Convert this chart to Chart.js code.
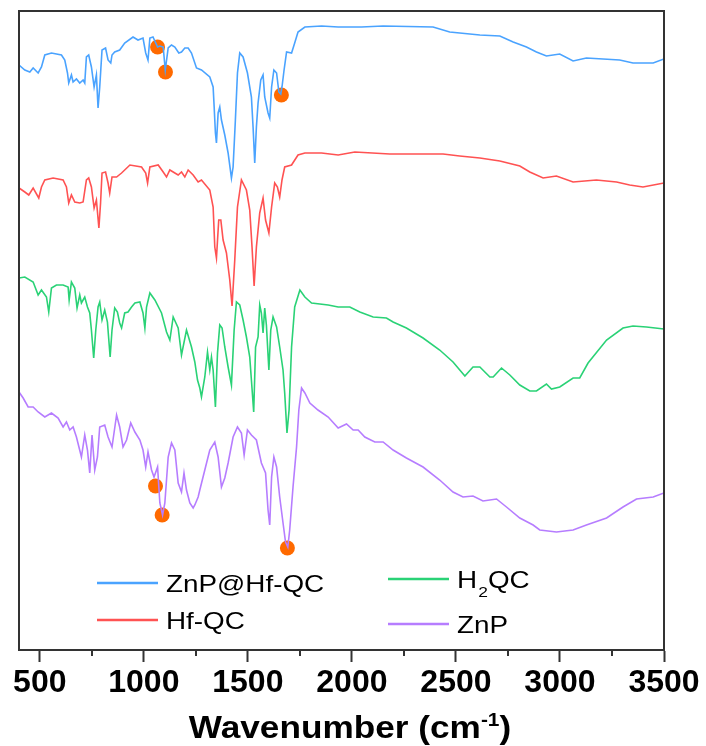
<!DOCTYPE html>
<html>
<head>
<meta charset="utf-8">
<script src="https://cdn.jsdelivr.net/npm/chart.js@4.4.1/dist/chart.umd.min.js"></script>
<style>
  html, body { margin: 0; padding: 0; background: #fff; }
  canvas { display: block; }
</style>
</head>
<body>
<canvas id="ftirChart" width="706" height="746"></canvas>
<script>
// FTIR traces, wavenumber (cm-1) vs. offset intensity (a.u.)
const znpHfX = [400, 428, 452, 468, 492, 508, 524, 556, 604, 620, 633, 639, 652, 660, 676, 692, 708, 716, 724, 735, 748, 761, 772, 780, 788, 799, 816, 828, 841, 847, 860, 884, 908, 948, 972, 996, 1009, 1020, 1029, 1044, 1066, 1077, 1093, 1103, 1117, 1133, 1149, 1168, 1181, 1197, 1213, 1229, 1253, 1277, 1317, 1333, 1338, 1344, 1349, 1357, 1365, 1373, 1389, 1405, 1421, 1429, 1440, 1450, 1461, 1477, 1498, 1517, 1525, 1533, 1541, 1549, 1562, 1573, 1581, 1597, 1605, 1614, 1625, 1638, 1649, 1658, 1664, 1674, 1686, 1710, 1725, 1741, 1774, 1854, 1934, 2046, 2150, 2390, 2470, 2615, 2711, 2775, 2839, 2887, 2935, 2999, 3063, 3127, 3287, 3351, 3448, 3500];
const znpHfY = [585, 580, 578, 582, 577, 583, 595, 597, 595, 590, 577, 567, 575, 568, 571, 567, 570, 567, 593, 595, 583, 563, 575, 542, 563, 600, 602, 590, 587, 595, 598, 600, 607, 613, 610, 612, 597, 590, 612, 613, 603, 604, 603, 580, 602, 605, 603, 597, 598, 602, 602, 597, 582, 580, 573, 563, 543, 517, 507, 537, 543, 530, 515, 497, 472, 483, 530, 577, 597, 593, 577, 553, 523, 487, 523, 547, 570, 575, 553, 537, 532, 563, 580, 577, 558, 556, 563, 580, 598, 597, 607, 618, 623, 624, 623, 623, 624, 623, 618, 615, 614, 608, 603, 598, 594, 596, 589, 592, 590, 587, 587, 591];

const hfX = [400, 428, 447, 468, 495, 508, 524, 564, 612, 628, 639, 652, 668, 692, 708, 724, 735, 748, 761, 772, 784, 792, 799, 816, 828, 836, 847, 869, 893, 933, 989, 1009, 1018, 1029, 1069, 1093, 1109, 1125, 1149, 1165, 1181, 1197, 1213, 1237, 1261, 1277, 1317, 1333, 1341, 1349, 1360, 1370, 1381, 1397, 1413, 1424, 1437, 1450, 1469, 1493, 1509, 1520, 1530, 1541, 1557, 1573, 1585, 1601, 1614, 1629, 1642, 1653, 1664, 1677, 1710, 1741, 1774, 1854, 1934, 2014, 2182, 2438, 2518, 2615, 2711, 2807, 2855, 2919, 2983, 3063, 3175, 3272, 3335, 3399, 3500];
const hfY = [462, 458, 455, 462, 452, 463, 470, 472, 470, 463, 447, 455, 448, 447, 448, 470, 472, 463, 442, 450, 422, 447, 477, 478, 467, 457, 473, 473, 477, 485, 483, 477, 467, 483, 485, 478, 473, 480, 477, 475, 478, 473, 480, 475, 468, 470, 460, 443, 403, 392, 430, 430, 410, 397, 370, 344, 390, 443, 470, 460, 440, 403, 364, 403, 437, 452, 430, 417, 443, 467, 463, 453, 470, 483, 485, 495, 497, 497, 495, 498, 496, 496, 494, 492, 489, 484, 478, 472, 474, 468, 470, 468, 465, 463, 467];

const h2qcX = [400, 428, 468, 492, 508, 532, 543, 556, 580, 612, 636, 641, 652, 668, 679, 692, 700, 716, 729, 740, 748, 759, 769, 780, 788, 799, 812, 825, 838, 847, 860, 873, 884, 893, 908, 924, 941, 957, 981, 996, 1005, 1013, 1029, 1053, 1085, 1109, 1125, 1141, 1165, 1181, 1205, 1229, 1245, 1258, 1269, 1277, 1293, 1306, 1317, 1325, 1333, 1344, 1354, 1365, 1376, 1389, 1405, 1421, 1434, 1445, 1461, 1477, 1493, 1509, 1517, 1528, 1537, 1549, 1557, 1565, 1573, 1581, 1589, 1601, 1610, 1621, 1638, 1653, 1669, 1677, 1688, 1698, 1710, 1725, 1750, 1774, 1806, 1886, 1934, 1990, 2038, 2102, 2166, 2198, 2262, 2342, 2422, 2486, 2543, 2582, 2615, 2663, 2679, 2719, 2759, 2807, 2855, 2887, 2935, 2959, 2999, 3063, 3095, 3135, 3224, 3303, 3351, 3416, 3500];
const h2qcY = [372, 373, 368, 355, 360, 353, 338, 362, 365, 365, 363, 350, 368, 362, 342, 355, 347, 353, 343, 337, 320, 292, 320, 343, 348, 330, 340, 328, 293, 320, 342, 338, 327, 322, 337, 338, 343, 347, 348, 337, 322, 343, 357, 350, 337, 318, 310, 333, 322, 295, 320, 303, 288, 270, 262, 253, 273, 298, 280, 293, 280, 243, 297, 325, 322, 303, 283, 265, 320, 348, 345, 330, 313, 293, 270, 238, 303, 313, 345, 337, 317, 342, 325, 280, 320, 333, 323, 303, 280, 257, 217, 240, 303, 343, 360, 353, 347, 345, 343, 343, 338, 333, 332, 328, 322, 312, 300, 288, 274, 283, 283, 273, 273, 282, 275, 265, 259, 259, 266, 261, 263, 272, 272, 287, 310, 322, 324, 323, 321];

const znpX = [400, 420, 444, 468, 492, 524, 556, 588, 612, 628, 644, 660, 676, 700, 716, 729, 740, 751, 764, 777, 788, 812, 828, 847, 869, 884, 900, 917, 937, 957, 981, 996, 1009, 1020, 1037, 1049, 1066, 1077, 1090, 1101, 1117, 1133, 1149, 1165, 1181, 1193, 1205, 1221, 1237, 1245, 1261, 1269, 1293, 1317, 1341, 1357, 1373, 1389, 1405, 1429, 1450, 1469, 1482, 1498, 1517, 1541, 1565, 1585, 1597, 1605, 1614, 1625, 1638, 1653, 1669, 1681, 1692, 1701, 1717, 1734, 1745, 1758, 1774, 1798, 1837, 1886, 1934, 1974, 2006, 2030, 2062, 2110, 2150, 2198, 2262, 2342, 2422, 2486, 2534, 2582, 2630, 2695, 2743, 2807, 2871, 2903, 2983, 3063, 3127, 3224, 3303, 3368, 3448, 3500];
const znpY = [258, 252, 243, 243, 238, 233, 237, 232, 223, 228, 220, 223, 213, 193, 215, 200, 177, 215, 180, 193, 223, 225, 213, 203, 235, 223, 203, 210, 227, 218, 210, 200, 183, 198, 180, 173, 183, 147, 135, 147, 193, 207, 200, 167, 158, 177, 160, 147, 142, 145, 153, 160, 180, 200, 208, 193, 163, 172, 187, 213, 223, 217, 195, 220, 215, 210, 187, 177, 140, 125, 173, 193, 183, 153, 127, 108, 103, 120, 163, 203, 240, 262, 257, 247, 240, 233, 222, 226, 220, 220, 213, 208, 208, 200, 192, 183, 170, 158, 153, 154, 149, 151, 143, 132, 125, 120, 118, 120, 125, 132, 143, 151, 153, 157];

// orange markers
const markTopX = [1066, 1104, 1661];
const markTopY = [603, 578, 555];
const markBotX = [1056, 1088, 1690];
const markBotY = [164, 135, 102];

const xTicks = [500, 1000, 1500, 2000, 2500, 3000, 3500];
const xMinorTicks = [750, 1250, 1750, 2250, 2750, 3250];

function pts(xs, ys) {
  return xs.map((x, i) => ({ x: x, y: ys[i] }));
}

const FONT = '"Liberation Sans", Arial, sans-serif';

const framePlugin = {
  id: 'frame',
  afterDatasetsDraw(chart) {
    const ctx = chart.ctx;
    const a = chart.chartArea;
    const xs = chart.scales.x;
    ctx.save();
    ctx.strokeStyle = '#333';
    ctx.lineWidth = 2;
    ctx.strokeRect(a.left, a.top, a.right - a.left, a.bottom - a.top);
    ctx.beginPath();
    xMinorTicks.forEach(v => {
      const px = Math.round(xs.getPixelForValue(v));
      ctx.moveTo(px, a.bottom);
      ctx.lineTo(px, a.bottom + 6);
    });
    ctx.stroke();
    ctx.restore();
  },
  afterDraw(chart) {
    const ctx = chart.ctx;
    // legend
    const items = [
      { ds: 0, x: 97, y: 583 },
      { ds: 1, x: 97, y: 620 },
      { ds: 2, x: 388, y: 579 },
      { ds: 3, x: 388, y: 624 }
    ];
    const sx = 1.16;
    ctx.save();
    items.forEach(it => {
      const d = chart.data.datasets[it.ds];
      ctx.strokeStyle = d.borderColor;
      ctx.lineWidth = 2.5;
      ctx.beginPath();
      ctx.moveTo(it.x, it.y);
      ctx.lineTo(it.x + 61, it.y);
      ctx.stroke();
      ctx.save();
      ctx.translate(it.x + 69, it.y + 8.5);
      ctx.scale(sx, 1);
      ctx.fillStyle = '#000';
      ctx.textBaseline = 'alphabetic';
      ctx.font = '24px ' + FONT;
      if (d.label === 'H2QC') {
        ctx.fillText('H', 0, 0);
        let w = ctx.measureText('H').width;
        ctx.font = '15px ' + FONT;
        ctx.fillText('2', w + 1, 9);
        w += ctx.measureText('2').width + 1;
        ctx.font = '24px ' + FONT;
        ctx.fillText('QC', w, 0);
      } else {
        ctx.fillText(d.label, 0, 0);
      }
      ctx.restore();
    });
    ctx.restore();

    // x axis title with superscript
    ctx.save();
    ctx.fillStyle = '#000';
    ctx.textBaseline = 'alphabetic';
    const big = 'bold 32px ' + FONT;
    const small = 'bold 19px ' + FONT;
    ctx.font = big;
    const w1 = ctx.measureText('Wavenumber (cm').width;
    const w3 = ctx.measureText(')').width;
    ctx.font = small;
    const w2 = ctx.measureText('-1').width;
    const tsx = 1.1;
    const total = (w1 + w2 + w3) * tsx;
    ctx.translate(350 - total / 2, 738);
    ctx.scale(tsx, 1);
    ctx.font = big;
    ctx.fillText('Wavenumber (cm', 0, 0);
    ctx.font = small;
    ctx.fillText('-1', w1, -12);
    ctx.font = big;
    ctx.fillText(')', w1 + w2, 0);
    ctx.restore();
  }
};

const lineStyle = {
  pointRadius: 0,
  borderWidth: 1.6,
  tension: 0,
  fill: false
};

new Chart(document.getElementById('ftirChart'), {
  type: 'line',
  data: {
    datasets: [
      Object.assign({ label: 'ZnP@Hf-QC', data: pts(znpHfX, znpHfY), borderColor: '#4aa3ff' }, lineStyle),
      Object.assign({ label: 'Hf-QC', data: pts(hfX, hfY), borderColor: '#ff5252' }, lineStyle),
      Object.assign({ label: 'H2QC', data: pts(h2qcX, h2qcY), borderColor: '#2ad276' }, lineStyle),
      Object.assign({ label: 'ZnP', data: pts(znpX, znpY), borderColor: '#b67dff' }, lineStyle),
      {
        label: 'marks1', data: pts(markTopX, markTopY), showLine: false,
        pointRadius: 7.5, pointBackgroundColor: '#ff6a00', pointBorderWidth: 0
      },
      {
        label: 'marks2', data: pts(markBotX, markBotY), showLine: false,
        pointRadius: 7.5, pointBackgroundColor: '#ff6a00', pointBorderWidth: 0
      }
    ]
  },
  options: {
    responsive: false,
    animation: false,
    layout: { padding: { left: 19, right: 42, top: 11, bottom: 0 } },
    plugins: {
      legend: { display: false },
      tooltip: { enabled: false }
    },
    scales: {
      x: {
        type: 'linear',
        min: 400,
        max: 3500,
        afterBuildTicks(scale) {
          scale.ticks = xTicks.map(v => ({ value: v }));
        },
        afterFit(scale) {
          scale.height = 96;
        },
        grid: {
          drawOnChartArea: false,
          drawTicks: true,
          tickLength: 12,
          tickColor: '#333',
          tickWidth: 2
        },
        border: { display: true, color: '#333', width: 2 },
        ticks: {
          color: '#000',
          padding: 2,
          maxRotation: 0,
          autoSkip: false,
          font: { family: FONT, size: 32, weight: 'bold' },
          callback: v => String(v)
        }
      },
      y: {
        display: false,
        min: 0,
        max: 639
      }
    }
  },
  plugins: [framePlugin]
});
</script>
</body>
</html>
